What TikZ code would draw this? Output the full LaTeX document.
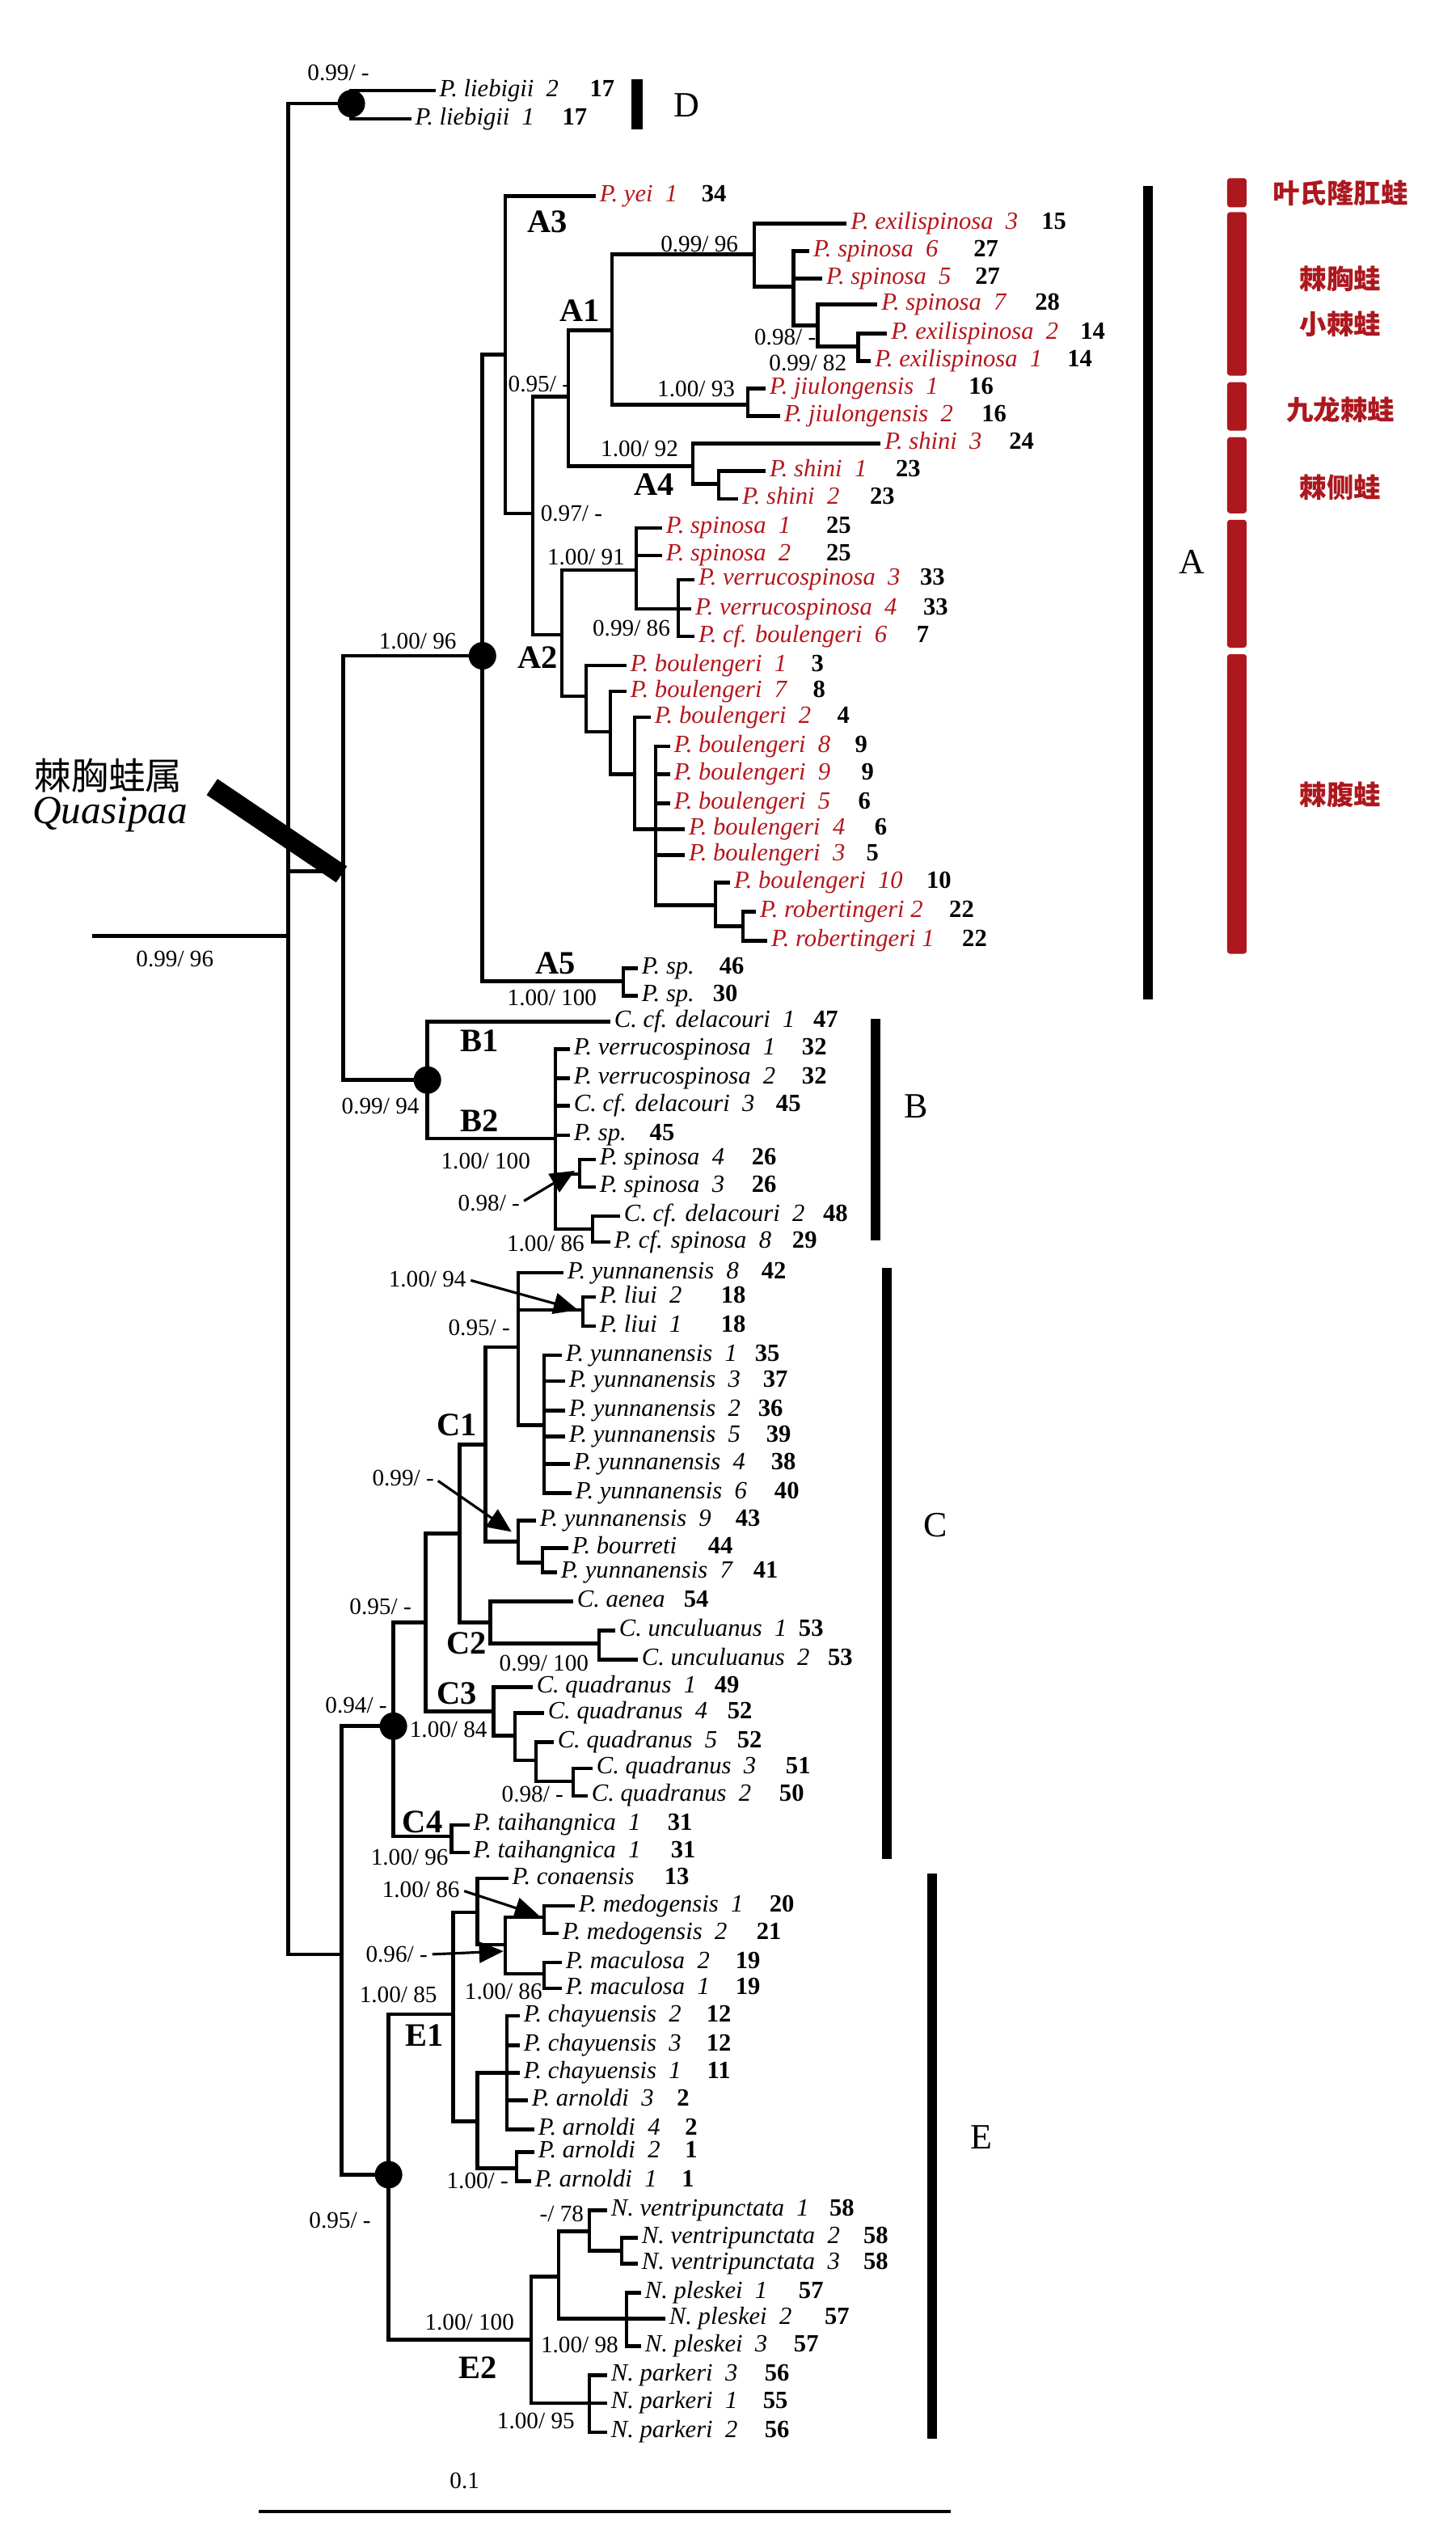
\documentclass[tikz,border=0pt]{standalone}
\usepackage{fontspec}
\setmainfont{Liberation Serif}
\newfontfamily\cjk{Noto Sans CJK SC}
\usepackage{xcolor}
\definecolor{sppred}{RGB}{180,22,28}
\definecolor{barred}{RGB}{172,24,30}
\usepackage{tikz}
\usetikzlibrary{arrows.meta}

\begin{document}
\begin{tikzpicture}[
    x=0.02cm, y=-0.02cm,
    br/.style={line width=1.3pt},
    tip/.style={anchor=west, inner sep=1.2pt, text height=6.2pt, text depth=2.2pt,
        font=\fontsize{8.7}{10}\selectfont\itshape},
    rtip/.style={tip, text=sppred},
    hap/.style={inner sep=0pt, text height=6.2pt, text depth=2.2pt,
        font=\fontsize{8.7}{10}\selectfont\bfseries},
    sup/.style={inner sep=0pt, font=\fontsize{8.3}{10}\selectfont},
    sub/.style={inner sep=0pt, font=\fontsize{11.5}{13}\selectfont\bfseries},
    clade/.style={inner sep=0pt, font=\fontsize{12.5}{14}\selectfont},
    dot/.style={circle, fill=black, inner sep=0pt, minimum size=0.34cm},
    callout/.style={line width=0.9pt, shorten <=1.5pt, -{Triangle[length=0.3cm, width=0.26cm]}},
    cname/.style={inner sep=0pt, text=barred, font={\cjk\fontsize{9.5}{11}\selectfont\bfseries}}
]
    \useasboundingbox (0,0) rectangle (899,1568);

    \foreach \n/\x/\y in {rootl/57/578, root/178/578, nD/217/64, nAB/212/538, nCE/211/1207,
        nA/298/405, nB/264/667, nA3/312/219, nA5/385/606, nA12/329/317, nA14/351/245,
        nA2/347/392, nA1/378/204, nA4/428/288, nExi/466/157, nSpi/490/177, nSpi7/505/201,
        nExi12/530/214, nJiu/462/250, nShi/444/299, nSpi12/393/352, nVer/419/376,
        nBou/362/430, nBou7/377/452, nBou2/392/478, nBou8/405/512, nBou10/442/559,
        nRob/459/572, nB2/343/703, nSpi34/358/725, nDel2/366/759,
        nC/243/1066, nE/240/1343, nC123/263/1002, nC4/279/1134, nC12/284/947,
        nC3/305/1057, nC1/300/892, nC2/303/1002, nYun/320/832, nYun9/320/952,
        nLiu/360/809, nYunG/336/880, nBour/335/965, nUnc/370/1015, nQ4/318/1072,
        nQ5/331/1087, nQ3/354/1100, nE1/280/1244, nE2/328/1445, nCon/295/1181,
        nChy/295/1310, nMed/312/1201, nMedo/336/1184, nMacu/336/1219, nArn34/313/1280,
        nArn12/319/1339, nNV/345/1406, nPark/364/1484, nVen/364/1378, nVen23/384/1390,
        nPle/387/1432, tipB/355/723, tipLiu/357/809, tipYun9/316/946, tipMedo/333/1183,
        tipMed/311/1205, qa/131/486, qb/211/540, sbl/160/1551, sbr/587/1551}
        \coordinate (\n) at (\x,\y);

    \node[tip] (lieb2) at (269,56)   {P. liebigii\enspace 2};
    \node[tip] (lieb1) at (254,73.5) {P. liebigii\enspace 1};

    \node[rtip] (yei)   at (368,121) {P. yei\enspace 1};
    \node[rtip] (exi3)  at (523,138) {P. exilispinosa\enspace 3};
    \node[rtip] (spi6)  at (500,155) {P. spinosa\enspace 6};
    \node[rtip] (spi5)  at (508,172) {P. spinosa\enspace 5};
    \node[rtip] (spi7)  at (542,188) {P. spinosa\enspace 7};
    \node[rtip] (exi2)  at (548,206) {P. exilispinosa\enspace 2};
    \node[rtip] (exi1)  at (538,223) {P. exilispinosa\enspace 1};
    \node[rtip] (jiu1)  at (473,240) {P. jiulongensis\enspace 1};
    \node[rtip] (jiu2)  at (482,257) {P. jiulongensis\enspace 2};
    \node[rtip] (shi3)  at (544,274) {P. shini\enspace 3};
    \node[rtip] (shi1)  at (473,291) {P. shini\enspace 1};
    \node[rtip] (shi2)  at (456,308) {P. shini\enspace 2};
    \node[rtip] (spi1)  at (409,326) {P. spinosa\enspace 1};
    \node[rtip] (spi2)  at (409,343) {P. spinosa\enspace 2};
    \node[rtip] (ver3)  at (429,358) {P. verrucospinosa\enspace 3};
    \node[rtip] (ver4)  at (427,376) {P. verrucospinosa\enspace 4};
    \node[rtip] (cfb6)  at (429,393) {P. cf. boulengeri\enspace 6};
    \node[rtip] (bou1)  at (387,411) {P. boulengeri\enspace 1};
    \node[rtip] (bou7)  at (387,427) {P. boulengeri\enspace 7};
    \node[rtip] (bou2)  at (402,443) {P. boulengeri\enspace 2};
    \node[rtip] (bou8)  at (414,461) {P. boulengeri\enspace 8};
    \node[rtip] (bou9)  at (414,478) {P. boulengeri\enspace 9};
    \node[rtip] (bou5)  at (414,496) {P. boulengeri\enspace 5};
    \node[rtip] (bou4)  at (423,512) {P. boulengeri\enspace 4};
    \node[rtip] (bou3)  at (423,528) {P. boulengeri\enspace 3};
    \node[rtip] (bou10) at (451,545) {P. boulengeri\enspace 10};
    \node[rtip] (rob2)  at (467,563) {P. robertingeri 2};
    \node[rtip] (rob1)  at (474,581) {P. robertingeri 1};
    \node[tip]  (sp46)  at (394,598) {P. sp.};
    \node[tip]  (sp30)  at (394,615) {P. sp.};

    \node[tip] (del1)  at (377,631) {C. cf. delacouri\enspace 1};
    \node[tip] (ver1b) at (352,648) {P. verrucospinosa\enspace 1};
    \node[tip] (ver2b) at (352,666) {P. verrucospinosa\enspace 2};
    \node[tip] (del3)  at (352,683) {C. cf. delacouri\enspace 3};
    \node[tip] (sp45)  at (352,701) {P. sp.};
    \node[tip] (spi4)  at (368,716) {P. spinosa\enspace 4};
    \node[tip] (spi3)  at (368,733) {P. spinosa\enspace 3};
    \node[tip] (del2)  at (383,751) {C. cf. delacouri\enspace 2};
    \node[tip] (cfs8)  at (377,767) {P. cf. spinosa\enspace 8};

    \node[tip] (yun8) at (348,786)  {P. yunnanensis\enspace 8};
    \node[tip] (liu2) at (368,801)  {P. liui\enspace 2};
    \node[tip] (liu1) at (368,819)  {P. liui\enspace 1};
    \node[tip] (yun1) at (347,837)  {P. yunnanensis\enspace 1};
    \node[tip] (yun3) at (349,853)  {P. yunnanensis\enspace 3};
    \node[tip] (yun2) at (349,871)  {P. yunnanensis\enspace 2};
    \node[tip] (yun5) at (349,887)  {P. yunnanensis\enspace 5};
    \node[tip] (yun4) at (352,904)  {P. yunnanensis\enspace 4};
    \node[tip] (yun6) at (353,922)  {P. yunnanensis\enspace 6};
    \node[tip] (yun9) at (331,939)  {P. yunnanensis\enspace 9};
    \node[tip] (bour) at (351,956)  {P. bourreti};
    \node[tip] (yun7) at (344,971)  {P. yunnanensis\enspace 7};
    \node[tip] (aen)  at (354,989)  {C. aenea};
    \node[tip] (unc1) at (380,1007) {C. unculuanus\enspace 1};
    \node[tip] (unc2) at (394,1025) {C. unculuanus\enspace 2};
    \node[tip] (qua1) at (329,1042) {C. quadranus\enspace 1};
    \node[tip] (qua4) at (336,1058) {C. quadranus\enspace 4};
    \node[tip] (qua5) at (342,1076) {C. quadranus\enspace 5};
    \node[tip] (qua3) at (366,1092) {C. quadranus\enspace 3};
    \node[tip] (qua2) at (363,1109) {C. quadranus\enspace 2};
    \node[tip] (tai1) at (290,1127) {P. taihangnica\enspace 1};
    \node[tip] (tai2) at (290,1144) {P. taihangnica\enspace 1};

    \node[tip] (con)  at (314,1160) {P. conaensis};
    \node[tip] (med1) at (355,1177) {P. medogensis\enspace 1};
    \node[tip] (med2) at (345,1194) {P. medogensis\enspace 2};
    \node[tip] (mac2) at (347,1212) {P. maculosa\enspace 2};
    \node[tip] (mac1) at (347,1228) {P. maculosa\enspace 1};
    \node[tip] (chy2) at (321,1245) {P. chayuensis\enspace 2};
    \node[tip] (chy3) at (321,1263) {P. chayuensis\enspace 3};
    \node[tip] (chy1) at (321,1280) {P. chayuensis\enspace 1};
    \node[tip] (arn3) at (326,1297) {P. arnoldi\enspace 3};
    \node[tip] (arn4) at (330,1315) {P. arnoldi\enspace 4};
    \node[tip] (arn2) at (330,1329) {P. arnoldi\enspace 2};
    \node[tip] (arn1) at (328,1347) {P. arnoldi\enspace 1};
    \node[tip] (ven1) at (375,1365) {N. ventripunctata\enspace 1};
    \node[tip] (ven2) at (394,1382) {N. ventripunctata\enspace 2};
    \node[tip] (ven3) at (394,1398) {N. ventripunctata\enspace 3};
    \node[tip] (ple1) at (396,1416) {N. pleskei\enspace 1};
    \node[tip] (ple2) at (411,1432) {N. pleskei\enspace 2};
    \node[tip] (ple3) at (396,1449) {N. pleskei\enspace 3};
    \node[tip] (par3) at (375,1467) {N. parkeri\enspace 3};
    \node[tip] (par1) at (375,1484) {N. parkeri\enspace 1};
    \node[tip] (par2) at (375,1502) {N. parkeri\enspace 2};

    \foreach \t/\x/\y [count=\i] in {17/372/56, 17/355/73.5,
        34/441/121, 15/651/138, 27/609/155, 27/610/172, 28/647/188, 14/675/206, 14/667/223,
        16/606/240, 16/614/257, 24/631/274, 23/561/291, 23/545/308, 25/518/326, 25/518/343,
        33/576/358, 33/578/376, 7/570/393, 3/505/411, 8/506/427, 4/521/443, 9/532/461,
        9/536/478, 6/534/496, 6/544/512, 5/539/528, 10/580/545, 22/594/563, 22/602/581,
        46/452/598, 30/448/615,
        47/510/631, 32/503/648, 32/503/666, 45/487/683, 45/409/701, 26/472/716, 26/472/733,
        48/516/751, 29/497/767,
        42/478/786, 18/453/801, 18/453/819, 35/474/837, 37/479/853, 36/476/871, 39/481/887,
        38/484/904, 40/486/922, 43/462/939, 44/445/956, 41/473/971, 54/430/989, 53/501/1007,
        53/519/1025, 49/449/1042, 52/457/1058, 52/463/1076, 51/493/1092, 50/489/1109,
        31/420/1127, 31/422/1144,
        13/418/1160, 20/483/1177, 21/475/1194, 19/462/1212, 19/462/1228, 12/444/1245,
        12/444/1263, 11/444/1280, 2/422/1297, 2/427/1315, 1/427/1329, 1/425/1347,
        58/520/1365, 58/541/1382, 58/541/1398, 57/501/1416, 57/517/1432, 57/498/1449,
        56/480/1467, 55/479/1484, 56/480/1502}
        \node[hap] (hap\i) at (\x,\y) {\t};

    \draw[br] (rootl) -- (root);
    \foreach \p/\c in {root/nD, root/nAB, root/nCE, nD/lieb2.west, nD/lieb1.west,
        nAB/nA, nAB/nB, nA/nA3, nA/nA5, nA3/yei.west, nA3/nA12, nA12/nA14, nA12/nA2,
        nA14/nA1, nA14/nA4, nA1/nExi, nA1/nJiu, nExi/exi3.west, nExi/nSpi,
        nSpi/spi6.west, nSpi/spi5.west, nSpi/nSpi7, nSpi7/spi7.west, nSpi7/nExi12,
        nExi12/exi2.west, nExi12/exi1.west, nJiu/jiu1.west, nJiu/jiu2.west,
        nA4/shi3.west, nA4/nShi, nShi/shi1.west, nShi/shi2.west,
        nA2/nSpi12, nA2/nBou, nSpi12/spi1.west, nSpi12/spi2.west, nSpi12/nVer,
        nVer/ver3.west, nVer/ver4.west, nVer/cfb6.west, nBou/bou1.west, nBou/nBou7,
        nBou7/bou7.west, nBou7/nBou2, nBou2/bou2.west, nBou2/nBou8,
        nBou8/bou8.west, nBou8/bou9.west, nBou8/bou5.west, nBou8/bou4.west,
        nBou8/bou3.west, nBou8/nBou10, nBou10/bou10.west, nBou10/nRob,
        nRob/rob2.west, nRob/rob1.west, nA5/sp46.west, nA5/sp30.west,
        nB/del1.west, nB/nB2, nB2/ver1b.west, nB2/ver2b.west, nB2/del3.west,
        nB2/sp45.west, nB2/nSpi34, nB2/nDel2, nSpi34/spi4.west, nSpi34/spi3.west,
        nDel2/del2.west, nDel2/cfs8.west,
        nCE/nC, nCE/nE, nC/nC123, nC/nC4, nC123/nC12, nC123/nC3, nC12/nC1, nC12/nC2,
        nC1/nYun, nC1/nYun9, nYun/yun8.west, nYun/nLiu, nYun/nYunG,
        nLiu/liu2.west, nLiu/liu1.west, nYunG/yun1.west, nYunG/yun3.west,
        nYunG/yun2.west, nYunG/yun5.west, nYunG/yun4.west, nYunG/yun6.west,
        nYun9/yun9.west, nYun9/nBour, nBour/bour.west, nBour/yun7.west,
        nC2/aen.west, nC2/nUnc, nUnc/unc1.west, nUnc/unc2.west,
        nC3/qua1.west, nC3/nQ4, nQ4/qua4.west, nQ4/nQ5, nQ5/qua5.west, nQ5/nQ3,
        nQ3/qua3.west, nQ3/qua2.west, nC4/tai1.west, nC4/tai2.west,
        nE/nE1, nE/nE2, nE1/nCon, nE1/nChy, nCon/con.west, nCon/nMed,
        nMed/nMedo, nMed/nMacu, nMedo/med1.west, nMedo/med2.west,
        nMacu/mac2.west, nMacu/mac1.west, nChy/nArn34, nChy/nArn12,
        nArn34/chy2.west, nArn34/chy3.west, nArn34/chy1.west, nArn34/arn3.west,
        nArn34/arn4.west, nArn12/arn2.west, nArn12/arn1.west,
        nE2/nNV, nE2/nPark, nNV/nVen, nNV/nPle, nVen/ven1.west, nVen/nVen23,
        nVen23/ven2.west, nVen23/ven3.west, nPle/ple1.west, nPle/ple2.west,
        nPle/ple3.west, nPark/par3.west, nPark/par1.west, nPark/par2.west}
        \draw[br] (\p) |- (\c);

    \node[dot] (dD) at (nD) {};
    \node[dot] (dA) at (nA) {};
    \node[dot] (dB) at (nB) {};
    \node[dot] (dC) at (nC) {};
    \node[dot] (dE) at (nE) {};

    \node[sup] (s0) at (108,592)  {0.99/ 96};
    \node[sup] (s1) at (209,45)   {0.99/ -};
    \node[sup] (s2) at (258,396)  {1.00/ 96};
    \node[sup] (s3) at (235,683)  {0.99/ 94};
    \node[sup] (s4) at (432,151)  {0.99/ 96};
    \node[sup] (s5) at (333,237)  {0.95/ -};
    \node[sup] (s6) at (485,208)  {0.98/ -};
    \node[sup] (s7) at (499,224)  {0.99/ 82};
    \node[sup] (s8) at (430,240)  {1.00/ 93};
    \node[sup] (s9) at (395,277)  {1.00/ 92};
    \node[sup] (s10) at (353,317) {0.97/ -};
    \node[sup] (s11) at (362,344) {1.00/ 91};
    \node[sup] (s12) at (390,388) {0.99/ 86};
    \node[sup] (s13) at (341,616) {1.00/ 100};
    \node[sup] (s14) at (300,717) {1.00/ 100};
    \node[sup] (s15) at (302,743) {0.98/ -};
    \node[sup] (s16) at (337,768) {1.00/ 86};
    \node[sup] (s17) at (264,790) {1.00/ 94};
    \node[sup] (s18) at (296,820) {0.95/ -};
    \node[sup] (s19) at (249,913) {0.99/ -};
    \node[sup] (s20) at (235,992) {0.95/ -};
    \node[sup] (s21) at (336,1027) {0.99/ 100};
    \node[sup] (s22) at (220,1053) {0.94/ -};
    \node[sup] (s23) at (277,1068) {1.00/ 84};
    \node[sup] (s24) at (329,1108) {0.98/ -};
    \node[sup] (s25) at (253,1147) {1.00/ 96};
    \node[sup] (s26) at (260,1167) {1.00/ 86};
    \node[sup] (s27) at (245,1207) {0.96/ -};
    \node[sup] (s28) at (246,1232) {1.00/ 85};
    \node[sup] (s29) at (311,1230) {1.00/ 86};
    \node[sup] (s30) at (295,1347) {1.00/ -};
    \node[sup] (s31) at (210,1371) {0.95/ -};
    \node[sup] (s32) at (347,1367) {-/ 78};
    \node[sup] (s33) at (290,1434) {1.00/ 100};
    \node[sup] (s34) at (358,1448) {1.00/ 98};
    \node[sup] (s35) at (331,1495) {1.00/ 95};

    \draw[callout] (s15.east) -- (tipB);
    \draw[callout] (s17.east) -- (tipLiu);
    \draw[callout] (s19.east) -- (tipYun9);
    \draw[callout] (s26.east) -- (tipMedo);
    \draw[callout] (s27.east) -- (tipMed);

    \node[sub] (lA3) at (338,137)  {A3};
    \node[sub] (lA1) at (358,192)  {A1};
    \node[sub] (lA4) at (404,299)  {A4};
    \node[sub] (lA2) at (332,406)  {A2};
    \node[sub] (lA5) at (343,595)  {A5};
    \node[sub] (lB1) at (296,643)  {B1};
    \node[sub] (lB2) at (296,692)  {B2};
    \node[sub] (lC1) at (282,880)  {C1};
    \node[sub] (lC2) at (288,1015) {C2};
    \node[sub] (lC3) at (282,1046) {C3};
    \node[sub] (lC4) at (261,1125) {C4};
    \node[sub] (lE1) at (262,1257) {E1};
    \node[sub] (lE2) at (295,1462) {E2};

    \fill (390,49) rectangle (397,80);
    \fill (706,115) rectangle (712,617);
    \fill (538,629) rectangle (544,766);
    \fill (545,783) rectangle (551,1148);
    \fill (573,1157) rectangle (579,1506);
    \node[clade] (cD) at (424,65)   {D};
    \node[clade] (cA) at (736,347)  {A};
    \node[clade] (cB) at (566,683)  {B};
    \node[clade] (cC) at (578,942)  {C};
    \node[clade] (cE) at (606,1320) {E};

    \foreach \a/\b in {110/128, 131/232, 236/266, 270/317, 321/400, 404/589}
        \fill[barred, rounded corners=1pt] (758,\a) rectangle (770,\b);
    \node[cname] (cnYe) at (828,119) {叶氏隆肛蛙};
    \node[cname] (cnJx) at (828,172) {棘胸蛙};
    \node[cname] (cnXj) at (828,200) {小棘蛙};
    \node[cname] (cnJl) at (828,253) {九龙棘蛙};
    \node[cname] (cnJc) at (828,301) {棘侧蛙};
    \node[cname] (cnJf) at (828,491) {棘腹蛙};

    \draw[line width=0.24cm] (qa) -- (qb);
    \node[font={\cjk\fontsize{13}{15}\selectfont}] (qcn) at (67,479) {棘胸蛙属};
    \node[font=\fontsize{14}{16}\selectfont\itshape] (qla) at (68,503) {Quasipaa};

    \draw[line width=1.3pt] (sbl) -- (sbr);
    \node[sup] (sbt) at (287,1532) {0.1};
\end{tikzpicture}
\end{document}
